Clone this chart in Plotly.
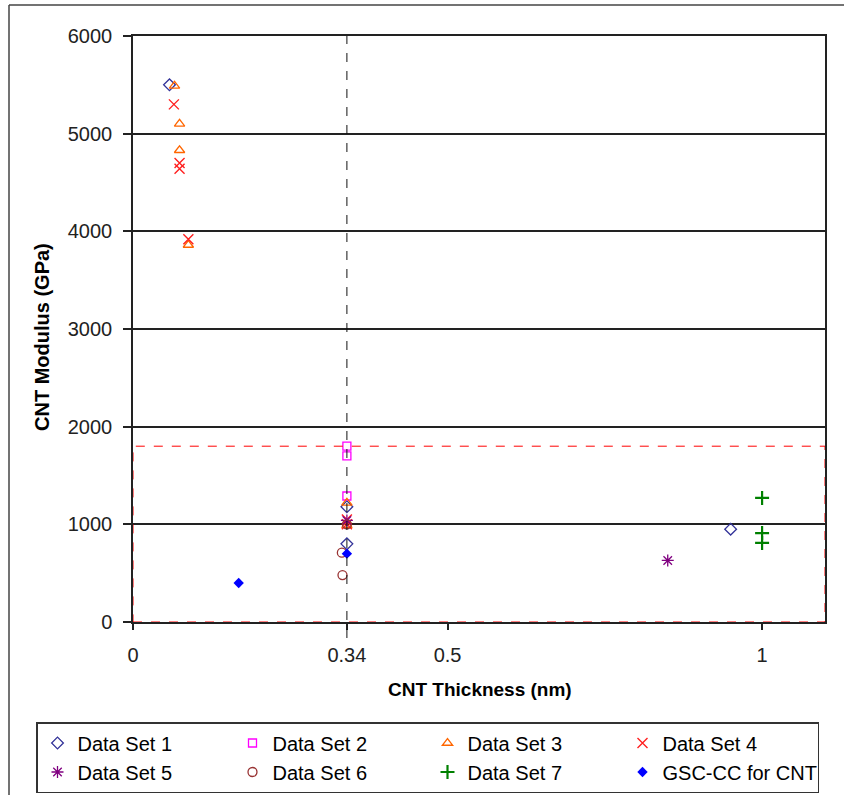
import plotly.graph_objects as go

# ---- data ----
ds1_x = [0.058, 0.34, 0.34, 0.95]
ds1_y = [5500, 1180, 800, 950]
ds2_x = [0.34, 0.34, 0.34]
ds2_y = [1800, 1700, 1290]
ds3_x = [0.066, 0.074, 0.074, 0.088, 0.34, 0.34]
ds3_y = [5490, 5100, 4830, 3860, 1220, 990]
ds4_x = [0.065, 0.074, 0.074, 0.088, 0.34, 0.34]
ds4_y = [5300, 4700, 4640, 3920, 1050, 1000]
ds5_x = [0.34, 0.85]
ds5_y = [1040, 630]
ds6_x = [0.34, 0.332, 0.333]
ds6_y = [1000, 710, 480]
ds7_x = [1.0, 1.0, 1.0]
ds7_y = [1270, 910, 810]
gsc_x = [0.168, 0.34]
gsc_y = [400, 700]

x_ticks = [0, 0.34, 0.5, 1]
x_tick_text = ["0", "0.34", "0.5", "1"]
y_ticks = [0, 1000, 2000, 3000, 4000, 5000, 6000]
X_MAX = 1.1
Y_MAX = 6000
REF_THICKNESS = 0.34
BOX_TOP = 1800

FONT = "Liberation Sans, Arial, sans-serif"

series = [
    ("Data Set 1", ds1_x, ds1_y, "diamond-open", "#333399", 9, 1.3),
    ("Data Set 2", ds2_x, ds2_y, "square-open", "#FF00FF", 8, 1.3),
    ("Data Set 3", ds3_x, ds3_y, "triangle-up-open", "#FF6600", 9, 1.3),
    ("Data Set 4", ds4_x, ds4_y, "x-thin-open", "#FF2020", 10, 1.4),
    ("Data Set 5", ds5_x, ds5_y, "asterisk-open", "#800080", 10, 1.3),
    ("Data Set 6", ds6_x, ds6_y, "circle-open", "#993333", 9, 1.3),
    ("Data Set 7", ds7_x, ds7_y, "cross-thin-open", "#008000", 10, 2.2),
    ("GSC-CC for CNT", gsc_x, gsc_y, "diamond", "#0000FF", 8, 0),
]

fig = go.Figure()
for name, xs, ys, sym, col, sz, lw in series:
    fig.add_trace(go.Scatter(
        x=xs, y=ys, mode="markers", name=name,
        marker=dict(symbol=sym, size=sz, color=col,
                    line=dict(color=col, width=lw)),
        cliponaxis=False,
    ))

W, H = 844, 795
ML, MR, MT, MB = 133, 19, 36, 173
pw = W - ML - MR
ph = H - MT - MB

def px_x(p):
    return (p - ML) / pw

def px_y(p):
    return (H - MB - p) / ph

shapes = [
    # red dashed rectangle
    dict(type="rect", xref="x", yref="y", x0=0, x1=X_MAX, y0=0, y1=BOX_TOP,
         line=dict(color="#FF0000", width=1, dash="dash"), layer="above"),
    # vertical dashed reference line
    dict(type="line", xref="paper", yref="paper",
         x0=REF_THICKNESS / X_MAX, x1=REF_THICKNESS / X_MAX,
         y0=px_y(638), y1=1,
         line=dict(color="#111111", width=1, dash="dash"), layer="above"),
    # outer chart border (left and top)
    dict(type="line", xref="paper", yref="paper", x0=px_x(9), x1=px_x(9),
         y0=px_y(5), y1=px_y(800), line=dict(color="#444444", width=1.5)),
    dict(type="line", xref="paper", yref="paper", x0=px_x(9), x1=px_x(850),
         y0=px_y(5), y1=px_y(5), line=dict(color="#444444", width=1.5)),
]

fig.update_layout(
    width=W, height=H,
    margin=dict(l=ML, r=MR, t=MT, b=MB, autoexpand=False),
    paper_bgcolor="white", plot_bgcolor="white",
    font=dict(family=FONT, size=20, color="black"),
    showlegend=True,
    legend=dict(
        orientation="h", x=px_x(36), y=px_y(722), xanchor="left", yanchor="top",
        entrywidth=150, entrywidthmode="pixels",
        bordercolor="#333333", borderwidth=1.5, bgcolor="white",
        font=dict(family=FONT, size=20, color="black"),
        traceorder="normal", itemsizing="trace",
    ),
    shapes=shapes,
    annotations=[
        dict(text="<b>CNT Thickness (nm)</b>", xref="paper", yref="paper",
             x=px_x(480), y=px_y(689), xanchor="center", yanchor="middle",
             showarrow=False, font=dict(family=FONT, size=19, color="black")),
        dict(text="<b>CNT Modulus (GPa)</b>", xref="paper", yref="paper",
             x=px_x(42), y=px_y(337), xanchor="center", yanchor="middle",
             textangle=-90, showarrow=False,
             font=dict(family=FONT, size=20, color="black")),
    ],
)

fig.update_xaxes(
    range=[0, X_MAX], tickvals=x_ticks, ticktext=x_tick_text,
    showgrid=False, zeroline=False,
    showline=True, linecolor="#222222", linewidth=1.5, mirror=True,
    ticks="outside", ticklen=6, tickcolor="#222222", tickwidth=1.5,
    ticklabelstandoff=8,
    tickfont=dict(family=FONT, size=20, color="#222222"),
)
fig.update_yaxes(
    range=[0, Y_MAX], tickvals=y_ticks,
    showgrid=True, gridcolor="#222222", gridwidth=1.5, zeroline=False,
    showline=True, linecolor="#222222", linewidth=1.5, mirror=True,
    ticks="outside", ticklen=8, tickcolor="#222222", tickwidth=1.5,
    ticklabelstandoff=7,
    tickfont=dict(family=FONT, size=20, color="#222222"),
)

fig.write_html("out.html", config={"displayModeBar": False},
               post_script="document.body.style.margin='0';")
